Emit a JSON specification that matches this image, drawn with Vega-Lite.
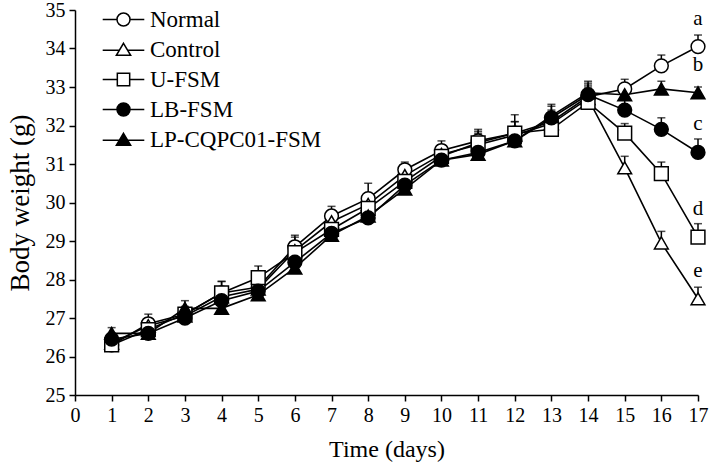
{
  "$schema": "https://vega.github.io/schema/vega-lite/v6.json",
  "width": 623,
  "height": 385,
  "autosize": {"type": "none"},
  "padding": {"left": 75, "top": 10, "right": 11, "bottom": 70},
  "background": "white",
  "config": {
    "view": {"stroke": null},
    "font": "Liberation Serif",
    "axis": {
      "grid": false,
      "domainColor": "black",
      "domainWidth": 1.5,
      "tickColor": "black",
      "tickWidth": 1.5,
      "tickSize": 6,
      "labelFont": "Liberation Serif",
      "labelFontSize": 20,
      "labelColor": "black",
      "titleFont": "Liberation Serif",
      "titleFontSize": 24,
      "titleFontWeight": "normal",
      "titleColor": "black"
    },
    "legend": {
      "labelFont": "Liberation Serif",
      "labelFontSize": 23,
      "labelColor": "black",
      "labelLimit": 400,
      "symbolStrokeColor": "black"
    }
  },
  "data": {
    "values": [
      {"series": "Normal", "day": 1, "w": 26.3, "err": 0.15},
      {"series": "Normal", "day": 2, "w": 26.85, "err": 0.25},
      {"series": "Normal", "day": 3, "w": 27.1, "err": 0.2},
      {"series": "Normal", "day": 4, "w": 27.65, "err": 0.3},
      {"series": "Normal", "day": 5, "w": 27.8, "err": 0.2},
      {"series": "Normal", "day": 6, "w": 28.85, "err": 0.3},
      {"series": "Normal", "day": 7, "w": 29.65, "err": 0.25},
      {"series": "Normal", "day": 8, "w": 30.1, "err": 0.4},
      {"series": "Normal", "day": 9, "w": 30.85, "err": 0.2},
      {"series": "Normal", "day": 10, "w": 31.35, "err": 0.25},
      {"series": "Normal", "day": 11, "w": 31.6, "err": 0.3},
      {"series": "Normal", "day": 12, "w": 31.8, "err": 0.3},
      {"series": "Normal", "day": 13, "w": 32.1, "err": 0.3},
      {"series": "Normal", "day": 14, "w": 32.75, "err": 0.3},
      {"series": "Normal", "day": 15, "w": 32.95, "err": 0.25},
      {"series": "Normal", "day": 16, "w": 33.55, "err": 0.28},
      {"series": "Normal", "day": 17, "w": 34.05, "err": 0.3, "letter": "a"},
      {"series": "Control", "day": 1, "w": 26.35, "err": 0.15},
      {"series": "Control", "day": 2, "w": 26.8, "err": 0.2},
      {"series": "Control", "day": 3, "w": 27.05, "err": 0.15},
      {"series": "Control", "day": 4, "w": 27.55, "err": 0.25},
      {"series": "Control", "day": 5, "w": 27.75, "err": 0.2},
      {"series": "Control", "day": 6, "w": 28.75, "err": 0.35},
      {"series": "Control", "day": 7, "w": 29.5, "err": 0.3},
      {"series": "Control", "day": 8, "w": 29.95, "err": 0.3},
      {"series": "Control", "day": 9, "w": 30.7, "err": 0.25},
      {"series": "Control", "day": 10, "w": 31.25, "err": 0.25},
      {"series": "Control", "day": 11, "w": 31.5, "err": 0.3},
      {"series": "Control", "day": 12, "w": 31.75, "err": 0.35},
      {"series": "Control", "day": 13, "w": 32.05, "err": 0.3},
      {"series": "Control", "day": 14, "w": 32.7, "err": 0.3},
      {"series": "Control", "day": 15, "w": 30.9, "err": 0.3},
      {"series": "Control", "day": 16, "w": 28.95, "err": 0.3},
      {"series": "Control", "day": 17, "w": 27.5, "err": 0.3, "letter": "e"},
      {"series": "U-FSM", "day": 1, "w": 26.3, "err": 0.15},
      {"series": "U-FSM", "day": 2, "w": 26.7, "err": 0.2},
      {"series": "U-FSM", "day": 3, "w": 27.1, "err": 0.15},
      {"series": "U-FSM", "day": 4, "w": 27.65, "err": 0.3},
      {"series": "U-FSM", "day": 5, "w": 28.05, "err": 0.3},
      {"series": "U-FSM", "day": 6, "w": 28.7, "err": 0.25},
      {"series": "U-FSM", "day": 7, "w": 29.3, "err": 0.25},
      {"series": "U-FSM", "day": 8, "w": 29.85, "err": 0.3},
      {"series": "U-FSM", "day": 9, "w": 30.55, "err": 0.3},
      {"series": "U-FSM", "day": 10, "w": 31.2, "err": 0.3},
      {"series": "U-FSM", "day": 11, "w": 31.55, "err": 0.3},
      {"series": "U-FSM", "day": 12, "w": 31.8, "err": 0.48},
      {"series": "U-FSM", "day": 13, "w": 31.9, "err": 0.3},
      {"series": "U-FSM", "day": 14, "w": 32.6, "err": 0.35},
      {"series": "U-FSM", "day": 15, "w": 31.8, "err": 0.25},
      {"series": "U-FSM", "day": 16, "w": 30.75, "err": 0.3},
      {"series": "U-FSM", "day": 17, "w": 29.1, "err": 0.35, "letter": "d"},
      {"series": "LB-FSM", "day": 1, "w": 26.45, "err": 0.15},
      {"series": "LB-FSM", "day": 2, "w": 26.6, "err": 0.2},
      {"series": "LB-FSM", "day": 3, "w": 27.0, "err": 0.2},
      {"series": "LB-FSM", "day": 4, "w": 27.45, "err": 0.25},
      {"series": "LB-FSM", "day": 5, "w": 27.7, "err": 0.2},
      {"series": "LB-FSM", "day": 6, "w": 28.45, "err": 0.2},
      {"series": "LB-FSM", "day": 7, "w": 29.2, "err": 0.2},
      {"series": "LB-FSM", "day": 8, "w": 29.6, "err": 0.25},
      {"series": "LB-FSM", "day": 9, "w": 30.45, "err": 0.25},
      {"series": "LB-FSM", "day": 10, "w": 31.1, "err": 0.25},
      {"series": "LB-FSM", "day": 11, "w": 31.3, "err": 0.25},
      {"series": "LB-FSM", "day": 12, "w": 31.6, "err": 0.3},
      {"series": "LB-FSM", "day": 13, "w": 32.2, "err": 0.3},
      {"series": "LB-FSM", "day": 14, "w": 32.8, "err": 0.3},
      {"series": "LB-FSM", "day": 15, "w": 32.4, "err": 0.3},
      {"series": "LB-FSM", "day": 16, "w": 31.9, "err": 0.3},
      {"series": "LB-FSM", "day": 17, "w": 31.3, "err": 0.35, "letter": "c"},
      {"series": "LP-CQPC01-FSM", "day": 1, "w": 26.6, "err": 0.15},
      {"series": "LP-CQPC01-FSM", "day": 2, "w": 26.6, "err": 0.2},
      {"series": "LP-CQPC01-FSM", "day": 3, "w": 27.25, "err": 0.2},
      {"series": "LP-CQPC01-FSM", "day": 4, "w": 27.25, "err": 0.2},
      {"series": "LP-CQPC01-FSM", "day": 5, "w": 27.6, "err": 0.2},
      {"series": "LP-CQPC01-FSM", "day": 6, "w": 28.3, "err": 0.2},
      {"series": "LP-CQPC01-FSM", "day": 7, "w": 29.15, "err": 0.2},
      {"series": "LP-CQPC01-FSM", "day": 8, "w": 29.65, "err": 0.2},
      {"series": "LP-CQPC01-FSM", "day": 9, "w": 30.35, "err": 0.25},
      {"series": "LP-CQPC01-FSM", "day": 10, "w": 31.1, "err": 0.25},
      {"series": "LP-CQPC01-FSM", "day": 11, "w": 31.25, "err": 0.25},
      {"series": "LP-CQPC01-FSM", "day": 12, "w": 31.6, "err": 0.3},
      {"series": "LP-CQPC01-FSM", "day": 13, "w": 32.25, "err": 0.3},
      {"series": "LP-CQPC01-FSM", "day": 14, "w": 32.85, "err": 0.3},
      {"series": "LP-CQPC01-FSM", "day": 15, "w": 32.8, "err": 0.2},
      {"series": "LP-CQPC01-FSM", "day": 16, "w": 32.95, "err": 0.2},
      {"series": "LP-CQPC01-FSM", "day": 17, "w": 32.85, "err": 0.15, "letter": "b"}
    ]
  },
  "encoding": {
    "x": {
      "field": "day", "type": "quantitative",
      "scale": {"domain": [0, 17], "nice": false, "zero": false},
      "axis": {"title": "Time (days)", "values": [0,1,2,3,4,5,6,7,8,9,10,11,12,13,14,15,16,17], "labelPadding": 4, "titlePadding": 12, "labelFlush": false}
    },
    "y": {
      "field": "w", "type": "quantitative",
      "scale": {"domain": [25, 35], "nice": false, "zero": false},
      "axis": {"title": "Body weight (g)", "titleFontSize": 27, "values": [25,26,27,28,29,30,31,32,33,34,35], "labelPadding": 4, "titlePadding": 11}
    }
  },
  "layer": [
    {
      "mark": {"type": "line", "color": "black", "strokeWidth": 1.6},
      "encoding": {"detail": {"field": "series"}}
    },
    {
      "mark": {"type": "rule", "color": "black", "strokeWidth": 1.5},
      "encoding": {"y2": {"field": "top"}},
      "transform": [{"calculate": "datum.w + datum.err", "as": "top"}]
    },
    {
      "transform": [{"calculate": "datum.w + datum.err", "as": "top"}],
      "mark": {"type": "tick", "orient": "horizontal", "color": "black", "size": 8, "thickness": 1.5},
      "encoding": {"y": {"field": "top", "type": "quantitative"}}
    },
    {
      "mark": {"type": "point", "stroke": "black", "strokeWidth": 1.5, "opacity": 1, "size": 190},
      "encoding": {
        "shape": {
          "field": "series", "type": "nominal",
          "scale": {"domain": ["Normal", "Control", "U-FSM", "LB-FSM", "LP-CQPC01-FSM"], "range": ["circle", "triangle-up", "square", "circle", "triangle-up"]},
          "legend": null
        },
        "fill": {
          "field": "series", "type": "nominal",
          "scale": {"domain": ["Normal", "Control", "U-FSM", "LB-FSM", "LP-CQPC01-FSM"], "range": ["white", "white", "white", "black", "black"]},
          "legend": null
        }
      }
    },
    {
      "transform": [{"filter": "isValid(datum.letter)"}],
      "mark": {"type": "text", "font": "Liberation Serif", "fontSize": 21, "color": "black", "dy": -28, "baseline": "middle", "align": "center"},
      "encoding": {"text": {"field": "letter"}}
    },
    {
      "transform": [{"filter": "false"}],
      "mark": {"type": "point", "strokeWidth": 1.5, "opacity": 1},
      "encoding": {
        "shape": {
          "field": "series", "type": "nominal",
          "scale": {"domain": ["Normal", "Control", "U-FSM", "LB-FSM", "LP-CQPC01-FSM"], "range": [
            "M-3.2,0H-1M1,0H3.2M-1,0A1,1,0,1,0,1,0A1,1,0,1,0,-1,0Z",
            "M-3.2,0.1H-0.62M0.62,0.1H3.2M0,-0.95L1.1,0.9L-1.1,0.9Z",
            "M-3.2,0H-0.95M0.95,0H3.2M-0.95,-0.95H0.95V0.95H-0.95Z",
            "M-3.2,0H-1M1,0H3.2M-1,0A1,1,0,1,0,1,0A1,1,0,1,0,-1,0Z",
            "M-3.2,0.1H-0.62M0.62,0.1H3.2M0,-0.95L1.1,0.9L-1.1,0.9Z"
          ]},
          "legend": {"title": null, "orient": "none", "legendX": 37, "legendY": -2, "symbolSize": 169, "symbolStrokeWidth": 1.5, "labelOffset": 15, "rowPadding": 6, "symbolOpacity": 1}
        },
        "fill": {
          "field": "series", "type": "nominal",
          "scale": {"domain": ["Normal", "Control", "U-FSM", "LB-FSM", "LP-CQPC01-FSM"], "range": ["white", "white", "white", "black", "black"]},
          "legend": {"title": null, "orient": "none", "legendX": 37, "legendY": -2, "symbolSize": 169, "symbolStrokeWidth": 1.5, "labelOffset": 15, "rowPadding": 6, "symbolOpacity": 1}
        },
        "stroke": {
          "field": "series", "type": "nominal",
          "scale": {"domain": ["Normal", "Control", "U-FSM", "LB-FSM", "LP-CQPC01-FSM"], "range": ["black", "black", "black", "black", "black"]},
          "legend": {"title": null, "orient": "none", "legendX": 37, "legendY": -2, "symbolSize": 169, "symbolStrokeWidth": 1.5, "labelOffset": 15, "rowPadding": 6, "symbolOpacity": 1}
        }
      }
    }
  ],
  "resolve": {"scale": {"shape": "independent", "fill": "independent", "stroke": "independent"}, "legend": {"shape": "independent", "fill": "independent", "stroke": "independent"}}
}
